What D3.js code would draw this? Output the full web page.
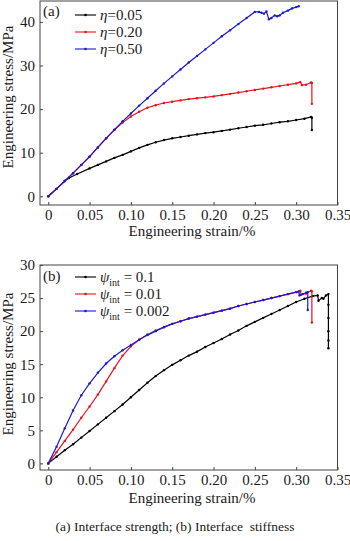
<!DOCTYPE html>
<html>
<head>
<meta charset="utf-8">
<script src="https://cdn.jsdelivr.net/npm/d3@7"></script>
<style>
  body { margin: 0; background: #fff; }
  svg { display: block; font-family: "Liberation Serif", "Times New Roman", serif; }
</style>
</head>
<body>
<div id="chart"></div>
<script>
// ---- data ----
const xTicks = [0, 0.05, 0.10, 0.15, 0.20, 0.25, 0.30, 0.35];
const yTicksA = [0, 10, 20, 30, 40];
const yTicksB = [0, 5, 10, 15, 20, 25, 30];

// (a) interface strength
const strainEta005 = [0, 0.01, 0.02, 0.025, 0.035, 0.05, 0.06, 0.07, 0.08, 0.09, 0.10, 0.11, 0.12, 0.13, 0.14, 0.15, 0.16, 0.17, 0.18, 0.19, 0.20, 0.21, 0.22, 0.23, 0.24, 0.25, 0.26, 0.27, 0.28, 0.29, 0.30, 0.31, 0.318, 0.319, 0.319];
const stressEta005 = [0, 1.7, 3.5, 4.2, 5.1, 6.4, 7.2, 8.0, 8.8, 9.5, 10.3, 11.1, 11.8, 12.4, 12.9, 13.3, 13.6, 13.9, 14.2, 14.5, 14.7, 15.0, 15.3, 15.6, 15.9, 16.2, 16.4, 16.7, 17.0, 17.2, 17.5, 17.8, 18.2, 18.0, 15.2];

const strainEta020 = [0, 0.01, 0.02, 0.03, 0.04, 0.05, 0.06, 0.07, 0.08, 0.09, 0.10, 0.11, 0.12, 0.13, 0.14, 0.15, 0.16, 0.17, 0.18, 0.19, 0.20, 0.21, 0.22, 0.23, 0.24, 0.25, 0.26, 0.27, 0.28, 0.29, 0.30, 0.305, 0.307, 0.312, 0.318, 0.319, 0.319];
const stressEta020 = [0, 1.7, 3.5, 5.3, 7.2, 9.1, 11.2, 13.3, 15.2, 16.9, 18.3, 19.4, 20.3, 20.9, 21.4, 21.7, 22.0, 22.3, 22.5, 22.7, 22.9, 23.2, 23.5, 23.8, 24.1, 24.4, 24.7, 25.0, 25.3, 25.6, 25.9, 26.2, 25.5, 25.6, 26.1, 26.0, 21.2];

const strainEta050 = [0, 0.01, 0.02, 0.03, 0.04, 0.05, 0.06, 0.07, 0.08, 0.09, 0.10, 0.11, 0.12, 0.13, 0.14, 0.15, 0.16, 0.17, 0.18, 0.19, 0.20, 0.21, 0.22, 0.23, 0.24, 0.25, 0.255, 0.258, 0.261, 0.264, 0.267, 0.270, 0.274, 0.277, 0.280, 0.284, 0.29, 0.295, 0.30, 0.303];
const stressEta050 = [0, 1.7, 3.5, 5.3, 7.2, 9.1, 11.2, 13.3, 15.3, 17.2, 19.0, 20.8, 22.5, 24.2, 25.9, 27.5, 29.1, 30.7, 32.2, 33.7, 35.2, 36.7, 38.1, 39.5, 40.9, 42.3, 42.3, 42.1, 41.9, 42.4, 40.6, 40.9, 41.5, 41.3, 41.5, 42.1, 42.6, 43.1, 43.4, 43.6];

// (b) interface stiffness
const strainPsi01 = [0, 0.01, 0.02, 0.03, 0.04, 0.05, 0.06, 0.07, 0.08, 0.09, 0.10, 0.11, 0.12, 0.13, 0.14, 0.15, 0.16, 0.17, 0.18, 0.19, 0.20, 0.21, 0.22, 0.23, 0.24, 0.25, 0.26, 0.27, 0.28, 0.29, 0.30, 0.31, 0.32, 0.326, 0.327, 0.331, 0.333, 0.336, 0.339, 0.339, 0.339, 0.339, 0.339, 0.339];
const stressPsi01 = [0, 1.0, 2.0, 2.9, 3.9, 4.9, 5.9, 6.9, 7.9, 8.9, 10.0, 11.1, 12.2, 13.2, 14.1, 14.9, 15.6, 16.3, 16.9, 17.6, 18.2, 18.8, 19.5, 20.1, 20.8, 21.4, 22.0, 22.6, 23.2, 23.8, 24.4, 24.9, 25.3, 25.4, 24.6, 25.0, 24.9, 25.4, 25.6, 24.0, 22.0, 20.0, 18.6, 17.4];

const strainPsi001 = [0, 0.01, 0.02, 0.03, 0.04, 0.05, 0.06, 0.07, 0.08, 0.09, 0.10, 0.11, 0.12, 0.13, 0.14, 0.15, 0.16, 0.17, 0.18, 0.19, 0.20, 0.21, 0.22, 0.23, 0.24, 0.25, 0.26, 0.27, 0.28, 0.29, 0.30, 0.305, 0.306, 0.312, 0.318, 0.319, 0.319];
const stressPsi001 = [0, 1.7, 3.4, 5.1, 6.9, 8.6, 10.4, 12.4, 14.4, 16.3, 17.7, 18.7, 19.5, 20.1, 20.6, 21.1, 21.5, 21.9, 22.2, 22.5, 22.8, 23.1, 23.4, 23.8, 24.1, 24.4, 24.7, 25.0, 25.3, 25.6, 25.9, 26.1, 25.5, 25.7, 26.1, 26.0, 21.3];

const strainPsi0002 = [0, 0.01, 0.02, 0.03, 0.04, 0.05, 0.06, 0.07, 0.08, 0.09, 0.10, 0.11, 0.12, 0.13, 0.14, 0.15, 0.16, 0.17, 0.18, 0.19, 0.20, 0.21, 0.22, 0.23, 0.24, 0.25, 0.26, 0.27, 0.28, 0.29, 0.30, 0.303, 0.304, 0.308, 0.312, 0.314, 0.314];
const stressPsi0002 = [0, 2.5, 5.3, 8.0, 10.3, 12.1, 13.7, 15.1, 16.2, 17.1, 17.9, 18.7, 19.4, 20.0, 20.6, 21.1, 21.5, 21.9, 22.2, 22.5, 22.8, 23.1, 23.4, 23.8, 24.1, 24.4, 24.7, 25.0, 25.3, 25.6, 25.9, 26.0, 25.4, 25.6, 25.8, 25.9, 23.2];

const labelsA = ["0.05", "0.20", "0.50"];
const labelsB = ["0.1", "0.01", "0.002"];
const colors = ["#000000", "#e8141c", "#1a1ad0"];

// ---- drawing ----
const W = 350, H = 541;
const svg = d3.select("#chart").append("svg")
    .attr("width", W)
    .attr("height", H);

const fontSize = 15;
const textColor = "#1a1a1a";

function zip(xs, ys) {
    return xs.map((x, i) => ({ x: x, y: ys[i] }));
}

function drawPanel(cfg) {
    let x = d3.scaleLinear().domain([-0.01, 0.35]).range([40, 337.5]);
    let y = d3.scaleLinear().domain(cfg.yDomain).range(cfg.yRange);

    let g = svg.append("g").attr("fill", textColor);

    // axes (inward ticks, no domain line)
    let xAxis = d3.axisBottom(x)
        .tickValues(xTicks)
        .tickSize(-3)
        .tickPadding(4)
        .tickFormat(d => d === 0 ? "0" : d3.format(".2f")(d));
    let gx = g.append("g")
        .attr("transform", `translate(0,${cfg.yRange[0]})`)
        .call(xAxis);

    let yAxis = d3.axisLeft(y)
        .tickValues(cfg.yTicks)
        .tickSize(-3)
        .tickPadding(5);
    let gy = g.append("g")
        .attr("transform", `translate(40,0)`)
        .call(yAxis);

    [gx, gy].forEach(a => {
        a.select(".domain").remove();
        a.selectAll("line").attr("stroke", "#444");
        a.selectAll("text")
            .attr("fill", textColor)
            .style("font-family", "'Liberation Serif', 'Times New Roman', serif")
            .style("font-size", fontSize + "px");
    });

    // frame
    g.append("rect")
        .attr("x", 40)
        .attr("y", cfg.yRange[1])
        .attr("width", 297.5)
        .attr("height", cfg.yRange[0] - cfg.yRange[1])
        .attr("fill", "none")
        .attr("stroke", "#444")
        .attr("stroke-width", 1);

    // series
    let line = d3.line().x(d => x(d.x)).y(d => y(d.y));
    cfg.series.forEach((s, i) => {
        let pts = zip(s[0], s[1]);
        g.append("path")
            .datum(pts)
            .attr("d", line)
            .attr("fill", "none")
            .attr("stroke", colors[i])
            .attr("stroke-width", 1.2);
        g.selectAll(".m" + i)
            .data(pts)
            .enter().append("circle")
            .attr("class", "m" + i)
            .attr("cx", d => x(d.x))
            .attr("cy", d => y(d.y))
            .attr("r", 1.2)
            .attr("fill", colors[i]);
    });

    // panel tag
    g.append("text")
        .attr("x", 43)
        .attr("y", cfg.tagY)
        .style("font-size", fontSize + "px")
        .text(cfg.tag);

    // legend
    cfg.labels.forEach((lab, i) => {
        let ly = cfg.legendY + i * 17;
        g.append("line")
            .attr("x1", 75).attr("x2", 96)
            .attr("y1", ly).attr("y2", ly)
            .attr("stroke", colors[i])
            .attr("stroke-width", 1.1);
        g.append("circle")
            .attr("cx", 85.5).attr("cy", ly).attr("r", 1.3)
            .attr("fill", colors[i]);
        let t = g.append("text")
            .attr("x", 100)
            .attr("y", ly + 5)
            .style("font-size", fontSize + "px");
        t.append("tspan").style("font-style", "italic").text(cfg.symbol);
        if (cfg.sub) {
            t.append("tspan").attr("dy", 4).style("font-size", "10px").text(cfg.sub);
            t.append("tspan").attr("dy", -4).text(" = " + lab);
        } else {
            t.append("tspan").text("=" + lab);
        }
    });

    // axis titles
    g.append("text")
        .attr("x", 192)
        .attr("y", cfg.xTitleY)
        .attr("text-anchor", "middle")
        .style("font-size", fontSize + "px")
        .text("Engineering strain/%");

    g.append("text")
        .attr("transform", `translate(13,${cfg.yTitleY}) rotate(-90)`)
        .attr("text-anchor", "middle")
        .style("font-size", fontSize + "px")
        .text("Engineering stress/MPa");
}

drawPanel({
    yDomain: [-2, 44.8],
    yRange: [205, 1],
    yTicks: yTicksA,
    series: [[strainEta005, stressEta005], [strainEta020, stressEta020], [strainEta050, stressEta050]],
    labels: labelsA,
    symbol: "η",
    sub: null,
    tag: "(a)",
    tagY: 16,
    legendY: 15,
    xTitleY: 236,
    yTitleY: 97
});

drawPanel({
    yDomain: [-1, 30],
    yRange: [470, 265],
    yTicks: yTicksB,
    series: [[strainPsi01, stressPsi01], [strainPsi001, stressPsi001], [strainPsi0002, stressPsi0002]],
    labels: labelsB,
    symbol: "ψ",
    sub: "int",
    tag: "(b)",
    tagY: 281,
    legendY: 277,
    xTitleY: 503,
    yTitleY: 364
});

// caption
svg.append("text")
    .attr("x", 175)
    .attr("y", 531)
    .attr("text-anchor", "middle")
    .attr("fill", textColor)
    .style("font-size", "13.5px")
    .style("white-space", "pre")
    .text("(a) Interface strength; (b) Interface  stiffness");
</script>
</body>
</html>
